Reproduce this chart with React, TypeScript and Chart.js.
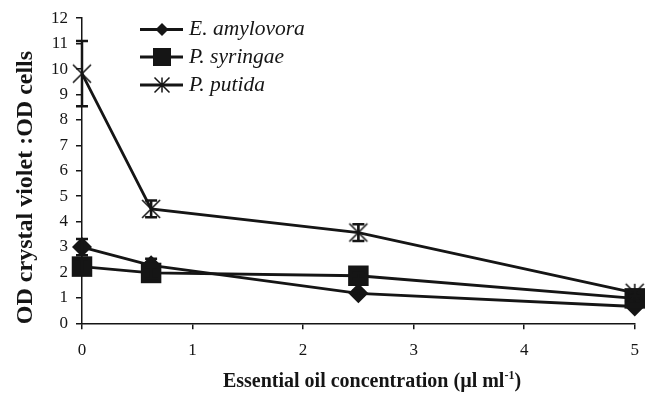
import React, { useEffect, useRef } from 'react';
import { Chart, registerables } from 'chart.js';

Chart.register(...registerables);

// Essential oil concentration (µl ml-1) at which biofilm was measured
const concentrations = [0, 0.625, 2.5, 5];

const seriesNames = ['E. amylovora', 'P. syringae', 'P. putida'];

// OD crystal violet : OD cells, mean and error for each strain
const amylovora = [3.0, 2.28, 1.18, 0.66];
const amylovoraErr = [0.32, 0.26, 0.1, 0.08];
const syringae = [2.23, 1.98, 1.87, 0.98];
const syringaeErr = [0.3, 0.22, 0.12, 0.1];
const putida = [9.82, 4.5, 3.57, 1.2];
const putidaErr = [1.28, 0.33, 0.33, 0.12];

const xTicks = [0, 1, 2, 3, 4, 5];
const yTicks = [0, 1, 2, 3, 4, 5, 6, 7, 8, 9, 10, 11, 12];

const xTitle = 'Essential oil concentration (µl ml';
const xTitleSup = '-1';
const xTitleEnd = ')';
const yTitle = 'OD crystal violet :OD cells';

const SERIF = '"Liberation Serif", "Times New Roman", serif';
const INK = '#151515';

function makeAsterisk(size: number, lw: number): HTMLCanvasElement {
  const pad = 2;
  const c = document.createElement('canvas');
  c.width = size + pad * 2;
  c.height = size + pad * 2;
  const g = c.getContext('2d')!;
  g.strokeStyle = INK;
  g.lineWidth = lw;
  const a = pad;
  const b = pad + size;
  const m = c.width / 2;
  g.beginPath();
  g.moveTo(a, a);
  g.lineTo(b, b);
  g.moveTo(b, a);
  g.lineTo(a, b);
  g.moveTo(m, a);
  g.lineTo(m, b);
  g.stroke();
  return c;
}

type Marker = 'diamond' | 'square' | 'asterisk';

function drawMarker(ctx: CanvasRenderingContext2D, kind: Marker, x: number, y: number, size: number) {
  const h = size / 2;
  ctx.save();
  ctx.fillStyle = INK;
  ctx.strokeStyle = INK;
  if (kind === 'diamond') {
    ctx.beginPath();
    ctx.moveTo(x, y - h);
    ctx.lineTo(x + h, y);
    ctx.lineTo(x, y + h);
    ctx.lineTo(x - h, y);
    ctx.closePath();
    ctx.fill();
  } else if (kind === 'square') {
    ctx.fillRect(x - h, y - h, size, size);
  } else {
    ctx.lineWidth = 1.5;
    ctx.beginPath();
    ctx.moveTo(x - h, y - h);
    ctx.lineTo(x + h, y + h);
    ctx.moveTo(x + h, y - h);
    ctx.lineTo(x - h, y + h);
    ctx.moveTo(x, y - h);
    ctx.lineTo(x, y + h);
    ctx.stroke();
  }
  ctx.restore();
}

const errorSets = [
  { values: amylovora, errs: amylovoraErr },
  { values: syringae, errs: syringaeErr },
  { values: putida, errs: putidaErr },
];

const legendMarkers: { kind: Marker; size: number }[] = [
  { kind: 'diamond', size: 13 },
  { kind: 'square', size: 18 },
  { kind: 'asterisk', size: 15 },
];

// Error bars drawn right after each dataset so stacking follows dataset order
const errorBarPlugin = {
  id: 'errorBars',
  afterDatasetDraw(chart: any, args: any) {
    const set = errorSets[args.index];
    if (!set) return;
    const { ctx } = chart;
    const xs = chart.scales.x;
    const ys = chart.scales.y;
    ctx.save();
    ctx.strokeStyle = INK;
    ctx.lineWidth = 2.5;
    set.values.forEach((v: number, i: number) => {
      const px = xs.getPixelForValue(concentrations[i]);
      const top = ys.getPixelForValue(v + set.errs[i]);
      const bot = ys.getPixelForValue(v - set.errs[i]);
      ctx.beginPath();
      ctx.moveTo(px, top);
      ctx.lineTo(px, bot);
      ctx.moveTo(px - 6, top);
      ctx.lineTo(px + 6, top);
      ctx.moveTo(px - 6, bot);
      ctx.lineTo(px + 6, bot);
      ctx.stroke();
    });
    ctx.restore();
  },
};

// Axis titles and the inline legend
const decorPlugin = {
  id: 'decor',
  afterDraw(chart: any) {
    const { ctx } = chart;
    ctx.save();
    ctx.fillStyle = INK;

    // x title with superscript
    const mainFont = `bold 20px ${SERIF}`;
    const supFont = `bold 12px ${SERIF}`;
    ctx.font = mainFont;
    const w1 = ctx.measureText(xTitle).width;
    const w3 = ctx.measureText(xTitleEnd).width;
    ctx.font = supFont;
    const w2 = ctx.measureText(xTitleSup).width;
    const total = w1 + w2 + w3;
    let tx = 372 - total / 2;
    const base = 387;
    ctx.textBaseline = 'alphabetic';
    ctx.textAlign = 'left';
    ctx.font = mainFont;
    ctx.fillText(xTitle, tx, base);
    tx += w1;
    ctx.font = supFont;
    ctx.fillText(xTitleSup, tx, base - 8);
    tx += w2;
    ctx.font = mainFont;
    ctx.fillText(xTitleEnd, tx, base);

    // y title
    ctx.save();
    ctx.translate(32, 187.5);
    ctx.rotate(-Math.PI / 2);
    ctx.font = `bold 24px ${SERIF}`;
    ctx.textAlign = 'center';
    ctx.fillText(yTitle, 0, 0);
    ctx.restore();

    // legend
    const rows = [29.5, 57, 85];
    seriesNames.forEach((name, i) => {
      const y = rows[i];
      ctx.strokeStyle = INK;
      ctx.lineWidth = 2.8;
      ctx.beginPath();
      ctx.moveTo(140, y);
      ctx.lineTo(183, y);
      ctx.stroke();
      drawMarker(ctx, legendMarkers[i].kind, 162, y, legendMarkers[i].size);
      ctx.font = `italic 21.5px ${SERIF}`;
      ctx.textAlign = 'left';
      ctx.textBaseline = 'middle';
      ctx.fillStyle = INK;
      ctx.fillText(name, 189, y);
    });
    ctx.restore();
  },
};

export default function App() {
  const canvasRef = useRef<HTMLCanvasElement | null>(null);

  useEffect(() => {
    const canvas = canvasRef.current;
    if (!canvas) return;
    const toPoints = (vals: number[]) => vals.map((v, i) => ({ x: concentrations[i], y: v }));
    const asterisk = makeAsterisk(18, 1.6);
    const tickFont = { family: SERIF, size: 17 };

    const chart = new Chart(canvas, {
      type: 'line',
      data: {
        datasets: [
          {
            label: seriesNames[0],
            data: toPoints(amylovora),
            borderColor: INK,
            backgroundColor: INK,
            borderWidth: 2.8,
            pointStyle: 'rectRot',
            pointRadius: 10,
            pointBorderWidth: 0,
            pointBackgroundColor: INK,
            clip: false,
            order: 2,
          },
          {
            label: seriesNames[1],
            data: toPoints(syringae),
            borderColor: INK,
            backgroundColor: INK,
            borderWidth: 2.8,
            pointStyle: 'rect',
            pointRadius: 14.5,
            pointBorderWidth: 0,
            pointBackgroundColor: INK,
            clip: false,
            order: 1,
          },
          {
            label: seriesNames[2],
            data: toPoints(putida),
            borderColor: INK,
            backgroundColor: INK,
            borderWidth: 2.8,
            pointStyle: asterisk as any,
            pointRadius: 9,
            clip: false,
            order: 0,
          },
        ],
      },
      options: {
        animation: false,
        responsive: false,
        devicePixelRatio: 1,
        layout: { padding: { top: 16, right: 13.5, left: 0, bottom: 0 } },
        plugins: { legend: { display: false }, tooltip: { enabled: false } },
        scales: {
          x: {
            type: 'linear',
            min: 0,
            max: 5,
            afterBuildTicks: (s: any) => {
              s.ticks = xTicks.map((v) => ({ value: v }));
            },
            afterFit: (s: any) => {
              s.height = 82.7;
            },
            ticks: { color: INK, font: tickFont, padding: 11, maxRotation: 0 },
            grid: { drawOnChartArea: false, drawTicks: true, tickLength: 6, color: INK, lineWidth: 1.5 },
            border: { display: true, color: INK, width: 1.5 },
          },
          y: {
            type: 'linear',
            min: 0,
            max: 12,
            afterBuildTicks: (s: any) => {
              s.ticks = yTicks.map((v) => ({ value: v }));
            },
            afterFit: (s: any) => {
              s.width = 82;
            },
            ticks: { color: INK, font: tickFont, padding: 8 },
            grid: { drawOnChartArea: false, drawTicks: true, tickLength: 6, color: INK, lineWidth: 1.5 },
            border: { display: true, color: INK, width: 1.5 },
          },
        },
      },
      plugins: [errorBarPlugin, decorPlugin],
    } as any);

    return () => chart.destroy();
  }, []);

  return (
    <div style={{ position: 'fixed', left: 0, top: 0, width: 650, height: 406, background: '#fff' }}>
      <canvas ref={canvasRef} width={650} height={406} />
    </div>
  );
}
